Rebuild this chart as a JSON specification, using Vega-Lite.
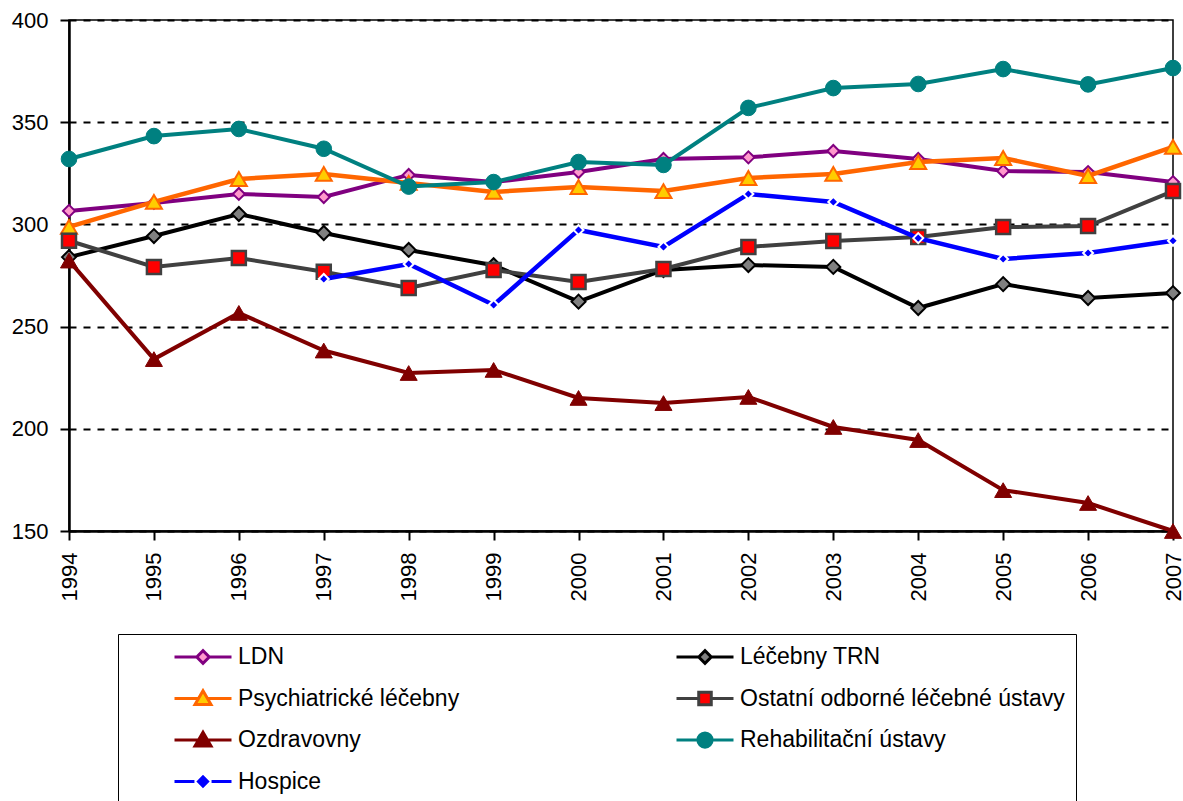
{
  "$schema": "https://vega.github.io/schema/vega-lite/v6.json",
  "width": 1104,
  "height": 511,
  "autosize": {"type": "none"},
  "padding": {"left": 69, "top": 20, "right": 10, "bottom": 270},
  "background": "white",
  "config": {
    "font": "Liberation Sans",
    "view": {"stroke": "#000000", "strokeWidth": 1.5}
  },
  "data": {
    "values": [
      {"series": "LDN", "year": 1994, "value": 306.6},
      {"series": "LDN", "year": 1995, "value": 310.5},
      {"series": "LDN", "year": 1996, "value": 314.9},
      {"series": "LDN", "year": 1997, "value": 313.4},
      {"series": "LDN", "year": 1998, "value": 324.2},
      {"series": "LDN", "year": 1999, "value": 320.7},
      {"series": "LDN", "year": 2000, "value": 325.6},
      {"series": "LDN", "year": 2001, "value": 332.0},
      {"series": "LDN", "year": 2002, "value": 332.8},
      {"series": "LDN", "year": 2003, "value": 335.9},
      {"series": "LDN", "year": 2004, "value": 332.0},
      {"series": "LDN", "year": 2005, "value": 326.1},
      {"series": "LDN", "year": 2006, "value": 325.6},
      {"series": "LDN", "year": 2007, "value": 320.7},
      {"series": "Léčebny TRN", "year": 1994, "value": 284.0},
      {"series": "Léčebny TRN", "year": 1995, "value": 294.3},
      {"series": "Léčebny TRN", "year": 1996, "value": 305.1},
      {"series": "Léčebny TRN", "year": 1997, "value": 295.8},
      {"series": "Léčebny TRN", "year": 1998, "value": 287.5},
      {"series": "Léčebny TRN", "year": 1999, "value": 280.0},
      {"series": "Léčebny TRN", "year": 2000, "value": 262.2},
      {"series": "Léčebny TRN", "year": 2001, "value": 277.7},
      {"series": "Léčebny TRN", "year": 2002, "value": 280.1},
      {"series": "Léčebny TRN", "year": 2003, "value": 279.2},
      {"series": "Léčebny TRN", "year": 2004, "value": 259.1},
      {"series": "Léčebny TRN", "year": 2005, "value": 270.8},
      {"series": "Léčebny TRN", "year": 2006, "value": 264.0},
      {"series": "Léčebny TRN", "year": 2007, "value": 266.4},
      {"series": "Psychiatrické léčebny", "year": 1994, "value": 298.8},
      {"series": "Psychiatrické léčebny", "year": 1995, "value": 311.0},
      {"series": "Psychiatrické léčebny", "year": 1996, "value": 322.2},
      {"series": "Psychiatrické léčebny", "year": 1997, "value": 324.7},
      {"series": "Psychiatrické léčebny", "year": 1998, "value": 320.3},
      {"series": "Psychiatrické léčebny", "year": 1999, "value": 315.9},
      {"series": "Psychiatrické léčebny", "year": 2000, "value": 318.3},
      {"series": "Psychiatrické léčebny", "year": 2001, "value": 316.3},
      {"series": "Psychiatrické léčebny", "year": 2002, "value": 322.7},
      {"series": "Psychiatrické léčebny", "year": 2003, "value": 324.7},
      {"series": "Psychiatrické léčebny", "year": 2004, "value": 330.5},
      {"series": "Psychiatrické léčebny", "year": 2005, "value": 332.5},
      {"series": "Psychiatrické léčebny", "year": 2006, "value": 323.7},
      {"series": "Psychiatrické léčebny", "year": 2007, "value": 337.9},
      {"series": "Ostatní odborné léčebné ústavy", "year": 1994, "value": 292.0},
      {"series": "Ostatní odborné léčebné ústavy", "year": 1995, "value": 279.2},
      {"series": "Ostatní odborné léčebné ústavy", "year": 1996, "value": 283.6},
      {"series": "Ostatní odborné léčebné ústavy", "year": 1997, "value": 276.8},
      {"series": "Ostatní odborné léčebné ústavy", "year": 1998, "value": 268.9},
      {"series": "Ostatní odborné léčebné ústavy", "year": 1999, "value": 277.7},
      {"series": "Ostatní odborné léčebné ústavy", "year": 2000, "value": 271.8},
      {"series": "Ostatní odborné léčebné ústavy", "year": 2001, "value": 278.2},
      {"series": "Ostatní odborné léčebné ústavy", "year": 2002, "value": 289.0},
      {"series": "Ostatní odborné léčebné ústavy", "year": 2003, "value": 291.9},
      {"series": "Ostatní odborné léčebné ústavy", "year": 2004, "value": 293.8},
      {"series": "Ostatní odborné léčebné ústavy", "year": 2005, "value": 298.7},
      {"series": "Ostatní odborné léčebné ústavy", "year": 2006, "value": 299.2},
      {"series": "Ostatní odborné léčebné ústavy", "year": 2007, "value": 316.3},
      {"series": "Ozdravovny", "year": 1994, "value": 282.3},
      {"series": "Ozdravovny", "year": 1995, "value": 234.1},
      {"series": "Ozdravovny", "year": 1996, "value": 256.7},
      {"series": "Ozdravovny", "year": 1997, "value": 238.3},
      {"series": "Ozdravovny", "year": 1998, "value": 227.3},
      {"series": "Ozdravovny", "year": 1999, "value": 228.8},
      {"series": "Ozdravovny", "year": 2000, "value": 215.1},
      {"series": "Ozdravovny", "year": 2001, "value": 212.6},
      {"series": "Ozdravovny", "year": 2002, "value": 215.6},
      {"series": "Ozdravovny", "year": 2003, "value": 200.9},
      {"series": "Ozdravovny", "year": 2004, "value": 194.5},
      {"series": "Ozdravovny", "year": 2005, "value": 170.0},
      {"series": "Ozdravovny", "year": 2006, "value": 163.7},
      {"series": "Ozdravovny", "year": 2007, "value": 150.0},
      {"series": "Rehabilitační ústavy", "year": 1994, "value": 332.0},
      {"series": "Rehabilitační ústavy", "year": 1995, "value": 343.2},
      {"series": "Rehabilitační ústavy", "year": 1996, "value": 346.7},
      {"series": "Rehabilitační ústavy", "year": 1997, "value": 337.0},
      {"series": "Rehabilitační ústavy", "year": 1998, "value": 318.5},
      {"series": "Rehabilitační ústavy", "year": 1999, "value": 320.7},
      {"series": "Rehabilitační ústavy", "year": 2000, "value": 330.5},
      {"series": "Rehabilitační ústavy", "year": 2001, "value": 329.1},
      {"series": "Rehabilitační ústavy", "year": 2002, "value": 357.0},
      {"series": "Rehabilitační ústavy", "year": 2003, "value": 366.7},
      {"series": "Rehabilitační ústavy", "year": 2004, "value": 368.7},
      {"series": "Rehabilitační ústavy", "year": 2005, "value": 376.0},
      {"series": "Rehabilitační ústavy", "year": 2006, "value": 368.5},
      {"series": "Rehabilitační ústavy", "year": 2007, "value": 376.5},
      {"series": "Hospice", "year": 1997, "value": 273.3},
      {"series": "Hospice", "year": 1998, "value": 280.6},
      {"series": "Hospice", "year": 1999, "value": 260.6},
      {"series": "Hospice", "year": 2000, "value": 297.3},
      {"series": "Hospice", "year": 2001, "value": 289.0},
      {"series": "Hospice", "year": 2002, "value": 314.9},
      {"series": "Hospice", "year": 2003, "value": 311.0},
      {"series": "Hospice", "year": 2004, "value": 293.3},
      {"series": "Hospice", "year": 2005, "value": 283.1},
      {"series": "Hospice", "year": 2006, "value": 286.0},
      {"series": "Hospice", "year": 2007, "value": 292.0}
    ]
  },
  "encoding": {
    "x": {
      "field": "year", "type": "quantitative",
      "scale": {"domain": [1994, 2007], "nice": false, "zero": false},
      "axis": {
        "title": null, "values": [1994, 1995, 1996, 1997, 1998, 1999, 2000, 2001, 2002, 2003, 2004, 2005, 2006, 2007],
        "format": "d", "labelAngle": -90, "labelFontSize": 22, "labelColor": "#000000",
        "labelFont": "Liberation Sans", "labelPadding": 12, "grid": false,
        "tickColor": "#000000", "tickWidth": 2, "tickSize": 9,
        "domainColor": "#000000", "domainWidth": 2.5, "labelOverlap": false
      }
    },
    "y": {
      "field": "value", "type": "quantitative",
      "scale": {"domain": [150, 400], "nice": false, "zero": false},
      "axis": {
        "title": null, "values": [150, 200, 250, 300, 350, 400],
        "labelFontSize": 22, "labelColor": "#000000", "labelFont": "Liberation Sans",
        "labelPadding": 12, "grid": true, "gridColor": "#000000", "gridDash": [7, 7], "gridWidth": 2,
        "tickColor": "#000000", "tickWidth": 2, "tickSize": 9,
        "domainColor": "#000000", "domainWidth": 2.5
      }
    }
  },
  "layer": [
    {
      "transform": [{"filter": "datum.series === 'LDN'"}],
      "layer": [
        {"mark": {"type": "line", "stroke": "#800080", "strokeWidth": 4}, "encoding": {}},
        {"mark": {"type": "point", "shape": "diamond", "filled": true, "size": 144, "fill": "#FF99CC", "stroke": "#800080", "strokeWidth": 2, "opacity": 1}}
      ]
    },
    {
      "transform": [{"filter": "datum.series === 'Léčebny TRN'"}],
      "layer": [
        {"mark": {"type": "line", "stroke": "#000000", "strokeWidth": 4}, "encoding": {}},
        {"mark": {"type": "point", "shape": "diamond", "filled": true, "size": 196, "fill": "#808080", "stroke": "#000000", "strokeWidth": 2, "opacity": 1}}
      ]
    },
    {
      "transform": [{"filter": "datum.series === 'Psychiatrické léčebny'"}],
      "layer": [
        {"mark": {"type": "line", "stroke": "#FF6600", "strokeWidth": 4.5}, "encoding": {}},
        {"mark": {"type": "point", "shape": "triangle-up", "filled": true, "size": 256, "fill": "#FFCC00", "stroke": "#FF6600", "strokeWidth": 2, "opacity": 1}}
      ]
    },
    {
      "transform": [{"filter": "datum.series === 'Ostatní odborné léčebné ústavy'"}],
      "layer": [
        {"mark": {"type": "line", "stroke": "#404040", "strokeWidth": 4}, "encoding": {}},
        {"mark": {"type": "point", "shape": "square", "filled": true, "size": 196, "fill": "#FF0000", "stroke": "#404040", "strokeWidth": 2.5, "opacity": 1}}
      ]
    },
    {
      "transform": [{"filter": "datum.series === 'Ozdravovny'"}],
      "layer": [
        {"mark": {"type": "line", "stroke": "#800000", "strokeWidth": 4}, "encoding": {}},
        {"mark": {"type": "point", "shape": "triangle-up", "filled": true, "size": 289, "fill": "#800000", "stroke": "#800000", "strokeWidth": 1, "opacity": 1}}
      ]
    },
    {
      "transform": [{"filter": "datum.series === 'Rehabilitační ústavy'"}],
      "layer": [
        {"mark": {"type": "line", "stroke": "#008080", "strokeWidth": 4}, "encoding": {}},
        {"mark": {"type": "point", "shape": "circle", "filled": true, "size": 245, "fill": "#008080", "stroke": "#008080", "strokeWidth": 1, "opacity": 1}}
      ]
    },
    {
      "transform": [{"filter": "datum.series === 'Hospice'"}],
      "layer": [
        {"mark": {"type": "line", "stroke": "#0000FF", "strokeWidth": 4.5}, "encoding": {}},
        {"mark": {"type": "point", "shape": "diamond", "filled": true, "size": 100, "fill": "#0000FF", "stroke": "#FFFFFF", "strokeWidth": 2, "opacity": 1}}
      ]
    },
    {
      "transform": [{"filter": "datum.value < 0"}],
      "mark": {"type": "point", "filled": true, "opacity": 1, "strokeWidth": 3},
      "encoding": {
        "shape": {
          "field": "series", "type": "nominal",
          "scale": {
            "domain": ["LDN", "Léčebny TRN", "Psychiatrické léčebny", "Ostatní odborné léčebné ústavy", "Ozdravovny", "Rehabilitační ústavy", "Hospice"],
            "range": [
              "M-1,0H-0.22M0.22,0H1M-0.22,0L0,-0.22L0.22,0L0,0.22Z",
              "M-1,0H-0.22M0.22,0H1M-0.22,0L0,-0.22L0.22,0L0,0.22Z",
              "M-1,0H-0.15M0.15,0H1M0,-0.27L0.28,0.21L-0.28,0.21Z",
              "M-1,0H-0.22M0.22,0H1M-0.22,-0.22H0.22V0.22H-0.22Z",
              "M-1,0H-0.15M0.15,0H1M0,-0.27L0.28,0.21L-0.28,0.21Z",
              "M-1,0H-0.25M0.25,0H1M-0.25,0A0.25,0.25 0 1,0 0.25,0A0.25,0.25 0 1,0 -0.25,0Z",
              "M-1,0H-0.3M0.3,0H1M-0.16,0L0,-0.16L0.16,0L0,0.16Z"
            ]
          },
          "legend": {
            "orient": "none", "legendX": 49, "legendY": 614, "columns": 2, "direction": "horizontal",
            "symbolSize": 3249, "symbolStrokeWidth": 3, "clipHeight": 24,
            "labelFont": "Liberation Sans", "labelFontSize": 23, "labelColor": "#000000", "labelLimit": 0,
            "labelOffset": 5, "rowPadding": 17.5, "columnPadding": 215, "padding": 11,
            "strokeColor": "#000000", "title": " ", "titleFontSize": 1, "titleOrient": "left", "titlePadding": 44,
            "encode": {"legend": {"update": {"strokeWidth": {"value": 2}}}}
          }
        },
        "fill": {
          "field": "series", "type": "nominal",
          "scale": {
            "domain": ["LDN", "Léčebny TRN", "Psychiatrické léčebny", "Ostatní odborné léčebné ústavy", "Ozdravovny", "Rehabilitační ústavy", "Hospice"],
            "range": ["#FF99CC", "#808080", "#FFCC00", "#FF0000", "#800000", "#008080", "#0000FF"]
          },
          "legend": {
            "orient": "none", "legendX": 49, "legendY": 614, "columns": 2, "direction": "horizontal",
            "symbolSize": 3249, "symbolStrokeWidth": 3, "clipHeight": 24,
            "labelFont": "Liberation Sans", "labelFontSize": 23, "labelColor": "#000000", "labelLimit": 0,
            "labelOffset": 5, "rowPadding": 17.5, "columnPadding": 215, "padding": 11,
            "strokeColor": "#000000", "title": " ", "titleFontSize": 1, "titleOrient": "left", "titlePadding": 44
          }
        },
        "stroke": {
          "field": "series", "type": "nominal",
          "scale": {
            "domain": ["LDN", "Léčebny TRN", "Psychiatrické léčebny", "Ostatní odborné léčebné ústavy", "Ozdravovny", "Rehabilitační ústavy", "Hospice"],
            "range": ["#800080", "#000000", "#FF6600", "#404040", "#800000", "#008080", "#0000FF"]
          },
          "legend": {
            "orient": "none", "legendX": 49, "legendY": 614, "columns": 2, "direction": "horizontal",
            "symbolSize": 3249, "symbolStrokeWidth": 3, "clipHeight": 24,
            "labelFont": "Liberation Sans", "labelFontSize": 23, "labelColor": "#000000", "labelLimit": 0,
            "labelOffset": 5, "rowPadding": 17.5, "columnPadding": 215, "padding": 11,
            "strokeColor": "#000000", "title": " ", "titleFontSize": 1, "titleOrient": "left", "titlePadding": 44
          }
        }
      }
    }
  ]
}
